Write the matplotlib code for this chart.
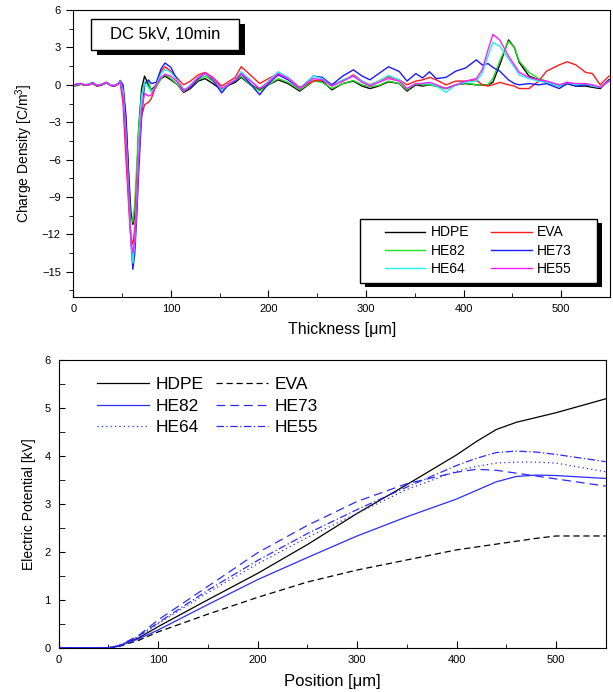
import matplotlib.pyplot as plt
from matplotlib.patches import Rectangle
from matplotlib.ticker import MultipleLocator

plt.rcParams['font.family'] = ['Liberation Sans', 'DejaVu Sans']
plt.rcParams['mathtext.fontset'] = 'custom'
plt.rcParams['mathtext.rm'] = 'Liberation Sans'
plt.rcParams['mathtext.it'] = 'Liberation Sans:italic'

names = ['HDPE', 'EVA', 'HE82', 'HE73', 'HE64', 'HE55']

# ---- space charge profiles (top), thickness in um, C/m^3
thick = [0, 4, 8, 12, 16, 20, 24, 28, 34, 38,
         42, 46, 48, 51, 54, 57, 59, 61, 63, 65,
         67, 70, 73, 77, 80, 85, 90, 94, 100, 107,
         113, 120, 128, 135, 143, 152, 160, 166, 172, 180,
         191, 200, 210, 220, 232, 246, 255, 265, 276, 287,
         296, 304, 313, 323, 334, 342, 351, 358, 365, 372,
         382, 392, 402, 413, 419, 425, 430, 437, 446, 452,
         457, 467, 477, 485, 498, 506, 515, 525, 532, 540,
         549]

q_hdpe = [-0.1, -0.05, 0.05, -0.05, 0.0, 0.1, -0.1, -0.05, 0.15, -0.05,
          -0.1, 0.05, 0.25, -0.3, -3.0, -7.5, -10.2, -11.2, -10.5, -7.5,
          -3.5, -0.3, 0.7, 0.0, -0.4, 0.0, 0.5, 0.7, 0.4, 0.0,
          -0.6, -0.3, 0.3, 0.5, 0.1, -0.4, 0.0, 0.2, 0.6, 0.1,
          -0.4, 0.0, 0.4, 0.1, -0.5, 0.3, 0.3, -0.4, 0.1, 0.3,
          -0.1, -0.3, -0.1, 0.25, 0.1, -0.5, 0.0, -0.1, 0.0, -0.1,
          -0.3, 0.0, 0.1, 0.0, 0.0, 0.0, 0.2, 1.6, 3.6, 3.0,
          1.8, 0.7, 0.4, 0.2, -0.1, 0.1, -0.1, -0.1, -0.2, -0.3,
          0.4]
q_eva = [-0.05, 0.05, 0.1, -0.05, 0.05, 0.15, -0.1, 0.0, 0.2, 0.0,
         -0.1, 0.1, 0.2, -1.5, -6.0, -10.0, -12.3, -12.8, -11.5, -8.0,
         -5.0, -2.5, -1.6, -1.4, -1.1, 0.0, 1.1, 1.45, 1.1, 0.5,
         0.0, 0.3, 0.8, 1.0, 0.6, -0.1, 0.3, 0.6, 1.45, 0.9,
         0.1, 0.5, 0.9, 0.6, -0.2, 0.3, 0.4, 0.0, 0.3, 0.8,
         0.3, 0.0, 0.3, 0.65, 0.4, 0.0, 0.3, 0.4, 0.6, 0.4,
         0.0, 0.3, 0.3, 0.4, 0.0, -0.1, 0.0, 0.2, 0.0, -0.1,
         -0.3, -0.3, 0.3, 1.1, 1.6, 1.85, 1.6, 1.0, 0.9, 0.0,
         0.7]
q_he82 = [-0.05, 0.0, 0.05, -0.05, 0.05, 0.1, -0.05, 0.0, 0.15, -0.05,
          -0.05, 0.05, 0.25, -0.8, -4.0, -8.5, -10.8, -11.0, -9.5, -6.5,
          -3.5, -0.8, 0.2, 0.3, -0.5, -0.2, 0.5, 0.85, 0.5, 0.0,
          -0.5, -0.2, 0.4, 0.7, 0.3, -0.4, 0.1, 0.3, 0.7, 0.1,
          -0.5, 0.0, 0.5, 0.2, -0.4, 0.3, 0.2, -0.3, 0.1, 0.35,
          0.0, -0.15, -0.05, 0.3, 0.1, -0.4, 0.1, 0.0, 0.0, -0.1,
          -0.3, 0.0, 0.15, 0.0, 0.0, 0.0, 0.5, 1.9, 3.5, 3.0,
          1.9, 1.0, 0.5, 0.3, -0.1, 0.2, 0.0, 0.0, -0.1, -0.2,
          0.3]
q_he73 = [-0.05, 0.1, 0.1, 0.0, 0.05, 0.2, -0.05, 0.0, 0.2, 0.0,
          -0.1, 0.1, 0.35, 0.0, -2.5, -8.0, -12.5, -14.8, -13.5, -10.5,
          -7.0, -2.5, 0.0, 0.4, 0.1, 0.2, 1.3, 1.75, 1.4, 0.3,
          -0.4, -0.2, 0.5, 0.9, 0.4, -0.65, 0.1, 0.3, 0.9, 0.2,
          -0.8, 0.1, 0.8, 0.4, -0.3, 0.7, 0.6, 0.0, 0.7, 1.2,
          0.7, 0.4, 0.9, 1.45, 1.07, 0.3, 0.9, 0.55, 1.05, 0.5,
          0.6, 1.1, 1.35, 2.0, 1.6, 1.7, 1.4, 1.1, 0.4, 0.1,
          0.0, 0.1, 0.0, 0.1, -0.3, 0.1, -0.1, 0.0, -0.1, -0.2,
          0.4]
q_he64 = [-0.05, 0.05, 0.1, 0.0, 0.05, 0.15, -0.05, 0.05, 0.2, 0.0,
          -0.05, 0.1, 0.3, -0.5, -4.0, -9.0, -12.5, -14.3, -12.5, -9.0,
          -5.0, -1.0, 0.1, -0.2, -0.6, 0.0, 0.9, 1.25, 1.0, 0.3,
          -0.5, 0.0, 0.6, 0.9, 0.5, -0.4, 0.1, 0.4, 1.05, 0.5,
          -0.3, 0.3, 1.05, 0.6, -0.3, 0.7, 0.5, -0.1, 0.4, 0.7,
          0.3, -0.05, 0.3, 0.75, 0.4, -0.3, 0.1, 0.1, 0.1, -0.1,
          -0.6, 0.0, 0.2, 0.3, 0.9, 2.3, 3.4, 3.1, 2.1, 1.4,
          0.8, 0.5, 0.3, 0.2, -0.1, 0.2, 0.0, 0.1, -0.1, -0.2,
          0.3]
q_he55 = [0.0, 0.05, 0.1, 0.0, 0.0, 0.15, -0.05, 0.0, 0.2, -0.05,
          -0.05, 0.1, 0.25, -1.0, -4.5, -9.5, -12.5, -13.5, -12.5, -9.5,
          -6.0, -2.0, -0.7, -0.9, -0.8, 0.0, 0.6, 0.85, 0.7, 0.2,
          -0.5, -0.1, 0.6, 0.95, 0.5, -0.3, 0.1, 0.4, 0.9, 0.4,
          -0.3, 0.2, 0.9, 0.5, -0.3, 0.5, 0.4, -0.1, 0.3, 0.7,
          0.2, -0.1, 0.2, 0.5, 0.3, -0.3, 0.1, 0.1, 0.2, 0.0,
          -0.3, 0.0, 0.3, 0.5, 1.2, 2.8, 4.05, 3.6, 2.3, 1.6,
          1.0, 0.6, 0.4, 0.3, 0.0, 0.2, 0.1, 0.1, 0.0, -0.2,
          0.3]

# ---- electric potential (bottom), kV
pos = [0, 50, 60, 70, 80, 100, 150, 200, 250, 300, 350, 400, 420, 440, 460, 480, 500, 550]
v_hdpe = [0, 0, 0.03, 0.12, 0.2, 0.44, 1.0, 1.55, 2.15, 2.8, 3.4, 4.02, 4.3, 4.55, 4.7, 4.8, 4.9, 5.19]
v_eva = [0, 0, 0.02, 0.09, 0.15, 0.33, 0.7, 1.05, 1.37, 1.62, 1.83, 2.04, 2.1, 2.16, 2.22, 2.28, 2.33, 2.33]
v_he82 = [0, 0, 0.03, 0.11, 0.18, 0.37, 0.9, 1.42, 1.88, 2.33, 2.73, 3.1, 3.28, 3.46, 3.57, 3.6, 3.59, 3.53]
v_he73 = [0, 0, 0.04, 0.14, 0.25, 0.58, 1.28, 1.98, 2.55, 3.05, 3.42, 3.66, 3.72, 3.7, 3.64, 3.58, 3.52, 3.37]
v_he64 = [0, 0, 0.03, 0.13, 0.22, 0.5, 1.15, 1.75, 2.3, 2.8, 3.3, 3.68, 3.78, 3.85, 3.87, 3.87, 3.85, 3.67]
v_he55 = [0, 0, 0.04, 0.14, 0.24, 0.52, 1.2, 1.82, 2.38, 2.88, 3.35, 3.8, 3.95, 4.07, 4.1, 4.08, 4.03, 3.88]

fig = plt.figure(figsize=(6.13, 6.92), dpi=100)
ax1 = fig.add_axes([0.1196, 0.5712, 0.8755, 0.4143])
ax2 = fig.add_axes([0.0958, 0.064, 0.8923, 0.4158])

# legend order: matplotlib fills columns first, so this gives rows
# HDPE EVA / HE82 HE73 / HE64 HE55
leg_order = ['HDPE', 'HE82', 'HE64', 'EVA', 'HE73', 'HE55']

# top panel
cols = {'HDPE': 'k', 'EVA': '#ff1a1a', 'HE82': '#1ee01e', 'HE73': '#1a1aff',
        'HE64': '#1ef0f0', 'HE55': '#ff1aff'}
qdata = {'HDPE': q_hdpe, 'EVA': q_eva, 'HE82': q_he82, 'HE73': q_he73,
         'HE64': q_he64, 'HE55': q_he55}
lines1 = {}
for n in ['HDPE', 'HE82', 'EVA', 'HE73', 'HE64', 'HE55']:
    lines1[n], = ax1.plot(thick, qdata[n], color=cols[n], lw=1.0, label=n)

ax1.set_xlim(0, 550)
ax1.set_ylim(-17, 6)
ax1.xaxis.set_major_locator(MultipleLocator(100))
ax1.xaxis.set_minor_locator(MultipleLocator(50))
ax1.yaxis.set_major_locator(MultipleLocator(3))
ax1.yaxis.set_minor_locator(MultipleLocator(1.5))
ax1.tick_params(axis='x', which='both', direction='in', labelsize=8, pad=5)
ax1.tick_params(axis='x', which='major', length=5)
ax1.tick_params(axis='x', which='minor', length=3)
ax1.tick_params(axis='y', which='both', direction='out', labelsize=8, pad=4)
ax1.tick_params(axis='y', which='major', length=5)
ax1.tick_params(axis='y', which='minor', length=3)
ax1.set_xlabel('Thickness [μm]', fontsize=11.5, labelpad=6)
ax1.set_ylabel('Charge Density [C/m$^3$]', fontsize=10, labelpad=5)

# "DC 5kV, 10min" box with hard shadow
ax1.add_patch(Rectangle((0.044, 0.843), 0.276, 0.109, transform=ax1.transAxes,
                        facecolor='k', edgecolor='none', zorder=5))
ax1.add_patch(Rectangle((0.033, 0.860), 0.276, 0.109, transform=ax1.transAxes,
                        facecolor='white', edgecolor='k', lw=1, zorder=6))
ax1.text(0.171, 0.9145, 'DC 5kV, 10min', transform=ax1.transAxes, fontsize=12,
         ha='center', va='center', zorder=7)

# legend box with hard shadow
ax1.add_patch(Rectangle((0.544, 0.034), 0.442, 0.223, transform=ax1.transAxes,
                        facecolor='k', edgecolor='none', zorder=5))
ax1.add_patch(Rectangle((0.534, 0.048), 0.442, 0.223, transform=ax1.transAxes,
                        facecolor='white', edgecolor='k', lw=1, zorder=6))
leg1 = ax1.legend([lines1[n] for n in leg_order], leg_order, ncol=2, loc='center',
                  bbox_to_anchor=(0.755, 0.16), frameon=False, fontsize=10,
                  handlelength=2.9, handletextpad=0.4, columnspacing=1.6,
                  labelspacing=0.32, borderpad=0)
leg1.set_zorder(8)

# bottom panel
blue = '#2b2bff'
lines2 = {}
lines2['HDPE'], = ax2.plot(pos, v_hdpe, color='k', lw=0.9, ls='-')
lines2['EVA'], = ax2.plot(pos, v_eva, color='k', lw=0.9, ls=(0, (5, 3)))
lines2['HE82'], = ax2.plot(pos, v_he82, color=blue, lw=0.9, ls='-')
lines2['HE73'], = ax2.plot(pos, v_he73, color=blue, lw=0.9, ls=(0, (7, 4)))
lines2['HE64'], = ax2.plot(pos, v_he64, color=blue, lw=0.9, ls=(0, (1, 2.5)))
lines2['HE55'], = ax2.plot(pos, v_he55, color=blue, lw=0.9, ls=(0, (6, 2, 1, 2)))

ax2.set_xlim(0, 550)
ax2.set_ylim(0, 6)
ax2.xaxis.set_major_locator(MultipleLocator(100))
ax2.xaxis.set_minor_locator(MultipleLocator(50))
ax2.yaxis.set_major_locator(MultipleLocator(1))
ax2.yaxis.set_minor_locator(MultipleLocator(0.5))
ax2.tick_params(which='both', direction='in', labelsize=8)
ax2.tick_params(axis='x', which='major', length=5, pad=5)
ax2.tick_params(axis='x', which='minor', length=3)
ax2.tick_params(axis='y', which='both', length=4, pad=6)
ax2.set_xlabel('Position [μm]', fontsize=12, labelpad=7)
ax2.set_ylabel('Electric Potential [kV]', fontsize=10, labelpad=6)

leg2 = ax2.legend([lines2[n] for n in leg_order], leg_order, ncol=2,
                  loc='upper left', bbox_to_anchor=(0.07, 0.94),
                  frameon=False, fontsize=12.5, handlelength=3.0,
                  handletextpad=0.35, columnspacing=0.75, labelspacing=0.36,
                  borderpad=0, borderaxespad=0)

fig.savefig('out.png', dpi=100)
